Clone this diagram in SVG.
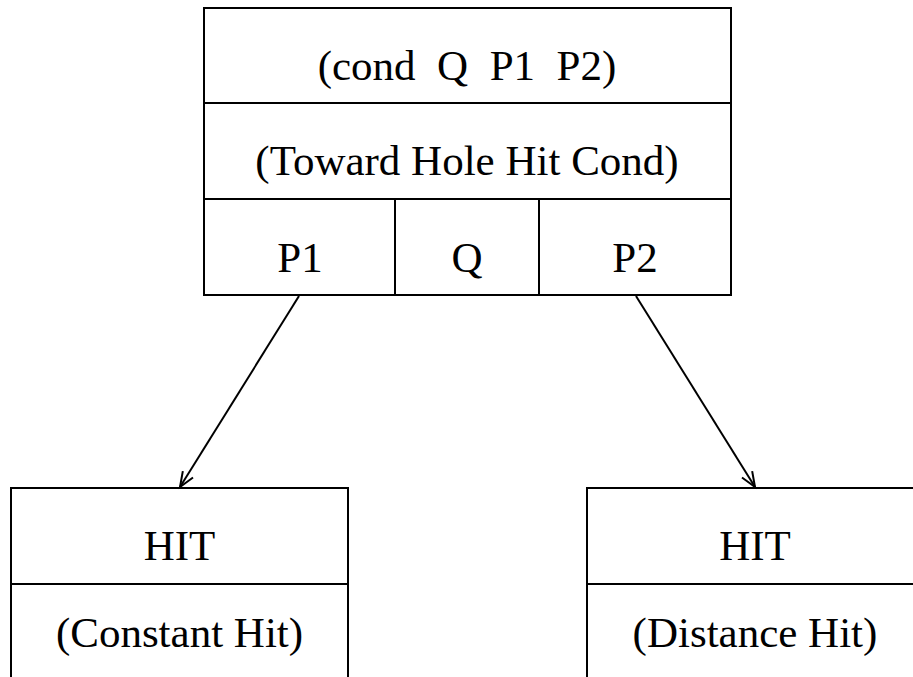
<svg xmlns="http://www.w3.org/2000/svg" width="913" height="677" viewBox="0 0 913 677">
<style>
.box{fill:#fff;stroke:#000;stroke-width:2}
.ln{stroke:#000;stroke-width:2;fill:none}
text{font-family:"Liberation Serif","Times New Roman",serif;font-size:43px;fill:#000;text-anchor:middle;white-space:pre}
</style>
<defs>
<marker id="arr" markerUnits="userSpaceOnUse" markerWidth="20" markerHeight="20" refX="16" refY="8" orient="auto" viewBox="0 0 20 16">
<path d="M1,2 L16,8 L1,14" fill="none" stroke="#000" stroke-width="2"/>
</marker>
</defs>
<g id="connectors">
<line class="ln" x1="299" y1="296" x2="180" y2="487" marker-end="url(#arr)"/>
<line class="ln" x1="636" y1="296" x2="755" y2="487" marker-end="url(#arr)"/>
</g>
<g id="cond">
<rect class="box" x="204" y="8" width="527" height="287"/>
<line class="ln" x1="204" y1="103" x2="731" y2="103"/>
<line class="ln" x1="204" y1="199" x2="731" y2="199"/>
<line class="ln" x1="395" y1="199" x2="395" y2="295"/>
<line class="ln" x1="539" y1="199" x2="539" y2="295"/>
<text x="467" y="80" xml:space="preserve">(cond  Q  P1  P2)</text>
<text x="467" y="175">(Toward Hole Hit Cond)</text>
<text x="300" y="272">P1</text>
<text x="467" y="272">Q</text>
<text x="635" y="272">P2</text>
</g>
<g id="constant-hit">
<path class="ln" d="M11,680 V488 H348 V680"/>
<line class="ln" x1="11" y1="584" x2="348" y2="584"/>
<text x="179.5" y="560">HIT</text>
<text x="179.5" y="647">(Constant Hit)</text>
</g>
<g id="distance-hit">
<path class="ln" d="M587,680 V488 H920"/>
<line class="ln" x1="587" y1="584" x2="920" y2="584"/>
<text x="755" y="560">HIT</text>
<text x="755" y="647">(Distance Hit)</text>
</g>
</svg>
